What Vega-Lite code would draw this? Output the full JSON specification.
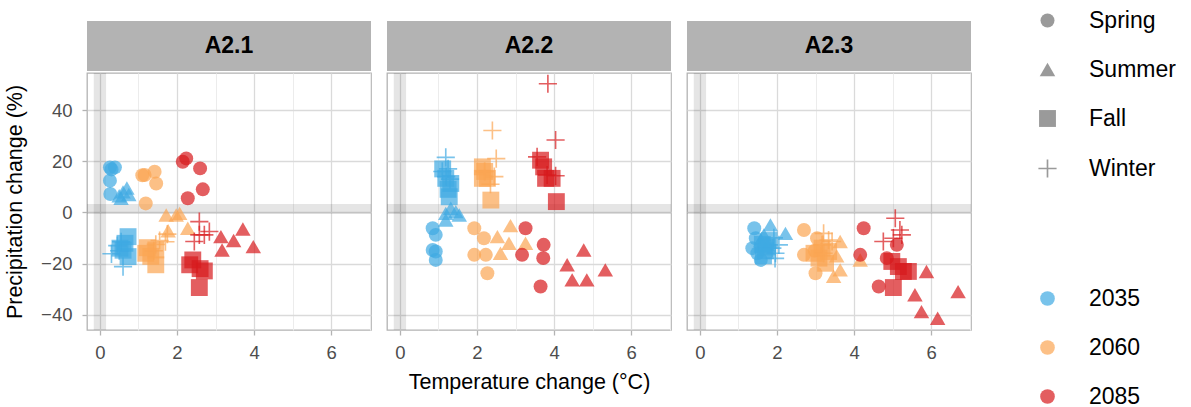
{
"$schema": "https://vega.github.io/schema/vega-lite/v6.json",
"padding": {"left": 3, "top": 9, "right": 0, "bottom": 0},
"datasets": {"pts": [
{"panel":"A2.1","year":"2035","season":"Spring","temp":0.26,"precip":17.6},
{"panel":"A2.1","year":"2035","season":"Spring","temp":0.39,"precip":17.6},
{"panel":"A2.1","year":"2035","season":"Spring","temp":0.3,"precip":16.8},
{"panel":"A2.1","year":"2035","season":"Spring","temp":0.26,"precip":12.4},
{"panel":"A2.1","year":"2035","season":"Spring","temp":0.27,"precip":7.2},
{"panel":"A2.1","year":"2035","season":"Summer","temp":0.5,"precip":6.5},
{"panel":"A2.1","year":"2035","season":"Summer","temp":0.6,"precip":8},
{"panel":"A2.1","year":"2035","season":"Summer","temp":0.7,"precip":9.5},
{"panel":"A2.1","year":"2035","season":"Summer","temp":0.75,"precip":7},
{"panel":"A2.1","year":"2035","season":"Summer","temp":0.55,"precip":5.5},
{"panel":"A2.1","year":"2035","season":"Fall","temp":0.73,"precip":-9.5},
{"panel":"A2.1","year":"2035","season":"Fall","temp":0.65,"precip":-12.1},
{"panel":"A2.1","year":"2035","season":"Fall","temp":0.52,"precip":-14},
{"panel":"A2.1","year":"2035","season":"Fall","temp":0.73,"precip":-17.3},
{"panel":"A2.1","year":"2035","season":"Fall","temp":0.6,"precip":-14.8},
{"panel":"A2.1","year":"2035","season":"Winter","temp":0.3,"precip":-16.2},
{"panel":"A2.1","year":"2035","season":"Winter","temp":0.6,"precip":-21.2},
{"panel":"A2.1","year":"2035","season":"Winter","temp":0.45,"precip":-13},
{"panel":"A2.1","year":"2035","season":"Winter","temp":0.55,"precip":-11.5},
{"panel":"A2.1","year":"2035","season":"Winter","temp":0.5,"precip":-15},
{"panel":"A2.1","year":"2060","season":"Spring","temp":1.16,"precip":14.6},
{"panel":"A2.1","year":"2060","season":"Spring","temp":1.42,"precip":15.9},
{"panel":"A2.1","year":"2060","season":"Spring","temp":1.46,"precip":11.3},
{"panel":"A2.1","year":"2060","season":"Spring","temp":1.19,"precip":3.5},
{"panel":"A2.1","year":"2060","season":"Spring","temp":1.1,"precip":14.5},
{"panel":"A2.1","year":"2060","season":"Summer","temp":1.72,"precip":-1},
{"panel":"A2.1","year":"2060","season":"Summer","temp":2.07,"precip":-0.4},
{"panel":"A2.1","year":"2060","season":"Summer","temp":1.98,"precip":-1},
{"panel":"A2.1","year":"2060","season":"Summer","temp":2.28,"precip":-6.2},
{"panel":"A2.1","year":"2060","season":"Summer","temp":1.77,"precip":-7.2},
{"panel":"A2.1","year":"2060","season":"Fall","temp":1.19,"precip":-16},
{"panel":"A2.1","year":"2060","season":"Fall","temp":1.45,"precip":-14.7},
{"panel":"A2.1","year":"2060","season":"Fall","temp":1.45,"precip":-20.5},
{"panel":"A2.1","year":"2060","season":"Fall","temp":1.32,"precip":-17.2},
{"panel":"A2.1","year":"2060","season":"Fall","temp":1.23,"precip":-13.8},
{"panel":"A2.1","year":"2060","season":"Winter","temp":1.45,"precip":-12.5},
{"panel":"A2.1","year":"2060","season":"Winter","temp":1.55,"precip":-11},
{"panel":"A2.1","year":"2060","season":"Winter","temp":1.7,"precip":-11.5},
{"panel":"A2.1","year":"2060","season":"Winter","temp":1.75,"precip":-8.5},
{"panel":"A2.1","year":"2060","season":"Winter","temp":1.4,"precip":-15},
{"panel":"A2.1","year":"2085","season":"Spring","temp":2.15,"precip":19.8},
{"panel":"A2.1","year":"2085","season":"Spring","temp":2.24,"precip":21.1},
{"panel":"A2.1","year":"2085","season":"Spring","temp":2.6,"precip":17.2},
{"panel":"A2.1","year":"2085","season":"Spring","temp":2.67,"precip":9},
{"panel":"A2.1","year":"2085","season":"Spring","temp":2.28,"precip":5.5},
{"panel":"A2.1","year":"2085","season":"Summer","temp":3.14,"precip":-9.5},
{"panel":"A2.1","year":"2085","season":"Summer","temp":3.71,"precip":-6.5},
{"panel":"A2.1","year":"2085","season":"Summer","temp":3.47,"precip":-11},
{"panel":"A2.1","year":"2085","season":"Summer","temp":3.17,"precip":-14.7},
{"panel":"A2.1","year":"2085","season":"Summer","temp":3.98,"precip":-13.4},
{"panel":"A2.1","year":"2085","season":"Fall","temp":2.41,"precip":-18.6},
{"panel":"A2.1","year":"2085","season":"Fall","temp":2.33,"precip":-20.5},
{"panel":"A2.1","year":"2085","season":"Fall","temp":2.71,"precip":-22.9},
{"panel":"A2.1","year":"2085","season":"Fall","temp":2.58,"precip":-29.4},
{"panel":"A2.1","year":"2085","season":"Fall","temp":2.6,"precip":-22},
{"panel":"A2.1","year":"2085","season":"Winter","temp":2.58,"precip":-3.6},
{"panel":"A2.1","year":"2085","season":"Winter","temp":2.71,"precip":-8.8},
{"panel":"A2.1","year":"2085","season":"Winter","temp":2.45,"precip":-11.4},
{"panel":"A2.1","year":"2085","season":"Winter","temp":2.58,"precip":-8.8},
{"panel":"A2.1","year":"2085","season":"Winter","temp":2.84,"precip":-7.5},
{"panel":"A2.2","year":"2035","season":"Spring","temp":0.85,"precip":-6.2},
{"panel":"A2.2","year":"2035","season":"Spring","temp":0.93,"precip":-8.8},
{"panel":"A2.2","year":"2035","season":"Spring","temp":0.85,"precip":-14.7},
{"panel":"A2.2","year":"2035","season":"Spring","temp":0.93,"precip":-15.3},
{"panel":"A2.2","year":"2035","season":"Spring","temp":0.93,"precip":-18.6},
{"panel":"A2.2","year":"2035","season":"Summer","temp":1.19,"precip":-0.4},
{"panel":"A2.2","year":"2035","season":"Summer","temp":1.32,"precip":1.6},
{"panel":"A2.2","year":"2035","season":"Summer","temp":1.45,"precip":0.3},
{"panel":"A2.2","year":"2035","season":"Summer","temp":1.19,"precip":-3},
{"panel":"A2.2","year":"2035","season":"Summer","temp":1.54,"precip":-1},
{"panel":"A2.2","year":"2035","season":"Fall","temp":1.11,"precip":17},
{"panel":"A2.2","year":"2035","season":"Fall","temp":1.19,"precip":13.3},
{"panel":"A2.2","year":"2035","season":"Fall","temp":1.32,"precip":11.3},
{"panel":"A2.2","year":"2035","season":"Fall","temp":1.28,"precip":6.1},
{"panel":"A2.2","year":"2035","season":"Fall","temp":1.25,"precip":9},
{"panel":"A2.2","year":"2035","season":"Winter","temp":1.19,"precip":21.5},
{"panel":"A2.2","year":"2035","season":"Winter","temp":1.1,"precip":16},
{"panel":"A2.2","year":"2035","season":"Winter","temp":1.2,"precip":14},
{"panel":"A2.2","year":"2035","season":"Winter","temp":1.25,"precip":17},
{"panel":"A2.2","year":"2035","season":"Winter","temp":1.3,"precip":13},
{"panel":"A2.2","year":"2060","season":"Spring","temp":1.93,"precip":-6.2},
{"panel":"A2.2","year":"2060","season":"Spring","temp":2.18,"precip":-10.1},
{"panel":"A2.2","year":"2060","season":"Spring","temp":1.93,"precip":-16.6},
{"panel":"A2.2","year":"2060","season":"Spring","temp":2.23,"precip":-16.6},
{"panel":"A2.2","year":"2060","season":"Spring","temp":2.27,"precip":-23.8},
{"panel":"A2.2","year":"2060","season":"Summer","temp":2.87,"precip":-5.2},
{"panel":"A2.2","year":"2060","season":"Summer","temp":2.53,"precip":-9.5},
{"panel":"A2.2","year":"2060","season":"Summer","temp":2.83,"precip":-12.1},
{"panel":"A2.2","year":"2060","season":"Summer","temp":3.26,"precip":-12.1},
{"panel":"A2.2","year":"2060","season":"Summer","temp":2.61,"precip":-16},
{"panel":"A2.2","year":"2060","season":"Fall","temp":2.14,"precip":17.8},
{"panel":"A2.2","year":"2060","season":"Fall","temp":2.14,"precip":13.3},
{"panel":"A2.2","year":"2060","season":"Fall","temp":2.27,"precip":13.3},
{"panel":"A2.2","year":"2060","season":"Fall","temp":2.2,"precip":16},
{"panel":"A2.2","year":"2060","season":"Fall","temp":2.36,"precip":4.8},
{"panel":"A2.2","year":"2060","season":"Winter","temp":2.4,"precip":32},
{"panel":"A2.2","year":"2060","season":"Winter","temp":2.5,"precip":21},
{"panel":"A2.2","year":"2060","season":"Winter","temp":2.45,"precip":14},
{"panel":"A2.2","year":"2060","season":"Winter","temp":2.2,"precip":16},
{"panel":"A2.2","year":"2060","season":"Winter","temp":2.35,"precip":11},
{"panel":"A2.2","year":"2085","season":"Spring","temp":3.26,"precip":-6.2},
{"panel":"A2.2","year":"2085","season":"Spring","temp":3.73,"precip":-12.7},
{"panel":"A2.2","year":"2085","season":"Spring","temp":3.17,"precip":-16.6},
{"panel":"A2.2","year":"2085","season":"Spring","temp":3.72,"precip":-17.9},
{"panel":"A2.2","year":"2085","season":"Spring","temp":3.65,"precip":-29},
{"panel":"A2.2","year":"2085","season":"Summer","temp":4.77,"precip":-14.7},
{"panel":"A2.2","year":"2085","season":"Summer","temp":4.34,"precip":-20.5},
{"panel":"A2.2","year":"2085","season":"Summer","temp":5.33,"precip":-22.5},
{"panel":"A2.2","year":"2085","season":"Summer","temp":4.47,"precip":-26.4},
{"panel":"A2.2","year":"2085","season":"Summer","temp":4.85,"precip":-26.4},
{"panel":"A2.2","year":"2085","season":"Fall","temp":3.65,"precip":20.4},
{"panel":"A2.2","year":"2085","season":"Fall","temp":3.73,"precip":17.8},
{"panel":"A2.2","year":"2085","season":"Fall","temp":3.78,"precip":13.3},
{"panel":"A2.2","year":"2085","season":"Fall","temp":3.95,"precip":13.3},
{"panel":"A2.2","year":"2085","season":"Fall","temp":4.06,"precip":4.2},
{"panel":"A2.2","year":"2085","season":"Winter","temp":3.84,"precip":50.3},
{"panel":"A2.2","year":"2085","season":"Winter","temp":4.04,"precip":28.3},
{"panel":"A2.2","year":"2085","season":"Winter","temp":3.56,"precip":21.7},
{"panel":"A2.2","year":"2085","season":"Winter","temp":3.82,"precip":14.6},
{"panel":"A2.2","year":"2085","season":"Winter","temp":4.04,"precip":14.3},
{"panel":"A2.3","year":"2035","season":"Spring","temp":1.41,"precip":-6.2},
{"panel":"A2.3","year":"2035","season":"Spring","temp":1.45,"precip":-10.1},
{"panel":"A2.3","year":"2035","season":"Spring","temp":1.36,"precip":-14},
{"panel":"A2.3","year":"2035","season":"Spring","temp":1.58,"precip":-18.6},
{"panel":"A2.3","year":"2035","season":"Spring","temp":1.49,"precip":-16},
{"panel":"A2.3","year":"2035","season":"Summer","temp":1.83,"precip":-4.9},
{"panel":"A2.3","year":"2035","season":"Summer","temp":2.22,"precip":-8.2},
{"panel":"A2.3","year":"2035","season":"Summer","temp":1.66,"precip":-8.8},
{"panel":"A2.3","year":"2035","season":"Summer","temp":1.75,"precip":-12.7},
{"panel":"A2.3","year":"2035","season":"Summer","temp":1.58,"precip":-10.8},
{"panel":"A2.3","year":"2035","season":"Fall","temp":1.62,"precip":-12.5},
{"panel":"A2.3","year":"2035","season":"Fall","temp":1.7,"precip":-15},
{"panel":"A2.3","year":"2035","season":"Fall","temp":1.75,"precip":-13.5},
{"panel":"A2.3","year":"2035","season":"Fall","temp":1.65,"precip":-17},
{"panel":"A2.3","year":"2035","season":"Fall","temp":1.8,"precip":-11},
{"panel":"A2.3","year":"2035","season":"Winter","temp":1.96,"precip":-16},
{"panel":"A2.3","year":"2035","season":"Winter","temp":2.05,"precip":-12.7},
{"panel":"A2.3","year":"2035","season":"Winter","temp":1.92,"precip":-10},
{"panel":"A2.3","year":"2035","season":"Winter","temp":1.88,"precip":-14},
{"panel":"A2.3","year":"2035","season":"Winter","temp":1.95,"precip":-18},
{"panel":"A2.3","year":"2060","season":"Spring","temp":2.7,"precip":-6.9},
{"panel":"A2.3","year":"2060","season":"Spring","temp":2.7,"precip":-16.6},
{"panel":"A2.3","year":"2060","season":"Spring","temp":3.0,"precip":-23.8},
{"panel":"A2.3","year":"2060","season":"Spring","temp":3.04,"precip":-10.1},
{"panel":"A2.3","year":"2060","season":"Spring","temp":2.98,"precip":-15},
{"panel":"A2.3","year":"2060","season":"Summer","temp":3.64,"precip":-11.4},
{"panel":"A2.3","year":"2060","season":"Summer","temp":4.16,"precip":-18.6},
{"panel":"A2.3","year":"2060","season":"Summer","temp":3.64,"precip":-22.5},
{"panel":"A2.3","year":"2060","season":"Summer","temp":3.47,"precip":-25},
{"panel":"A2.3","year":"2060","season":"Summer","temp":3.55,"precip":-17},
{"panel":"A2.3","year":"2060","season":"Fall","temp":2.96,"precip":-16},
{"panel":"A2.3","year":"2060","season":"Fall","temp":3.09,"precip":-17.9},
{"panel":"A2.3","year":"2060","season":"Fall","temp":3.17,"precip":-14},
{"panel":"A2.3","year":"2060","season":"Fall","temp":3.26,"precip":-19.9},
{"panel":"A2.3","year":"2060","season":"Fall","temp":3.34,"precip":-15.3},
{"panel":"A2.3","year":"2060","season":"Winter","temp":3.21,"precip":-8.2},
{"panel":"A2.3","year":"2060","season":"Winter","temp":3.34,"precip":-10.8},
{"panel":"A2.3","year":"2060","season":"Winter","temp":3.17,"precip":-12.7},
{"panel":"A2.3","year":"2060","season":"Winter","temp":3.43,"precip":-11.4},
{"panel":"A2.3","year":"2060","season":"Winter","temp":3.21,"precip":-16},
{"panel":"A2.3","year":"2085","season":"Spring","temp":4.25,"precip":-6.2},
{"panel":"A2.3","year":"2085","season":"Spring","temp":4.16,"precip":-16.6},
{"panel":"A2.3","year":"2085","season":"Spring","temp":4.85,"precip":-17.9},
{"panel":"A2.3","year":"2085","season":"Spring","temp":5.11,"precip":-12.7},
{"panel":"A2.3","year":"2085","season":"Spring","temp":4.64,"precip":-29},
{"panel":"A2.3","year":"2085","season":"Summer","temp":5.88,"precip":-23.1},
{"panel":"A2.3","year":"2085","season":"Summer","temp":6.7,"precip":-31},
{"panel":"A2.3","year":"2085","season":"Summer","temp":5.58,"precip":-32.2},
{"panel":"A2.3","year":"2085","season":"Summer","temp":5.75,"precip":-38.8},
{"panel":"A2.3","year":"2085","season":"Summer","temp":6.17,"precip":-41.4},
{"panel":"A2.3","year":"2085","season":"Fall","temp":4.98,"precip":-19.2},
{"panel":"A2.3","year":"2085","season":"Fall","temp":5.15,"precip":-21.2},
{"panel":"A2.3","year":"2085","season":"Fall","temp":5.41,"precip":-23.1},
{"panel":"A2.3","year":"2085","season":"Fall","temp":5.28,"precip":-23.1},
{"panel":"A2.3","year":"2085","season":"Fall","temp":5.02,"precip":-29.4},
{"panel":"A2.3","year":"2085","season":"Winter","temp":5.07,"precip":-2.3},
{"panel":"A2.3","year":"2085","season":"Winter","temp":5.19,"precip":-6.9},
{"panel":"A2.3","year":"2085","season":"Winter","temp":4.76,"precip":-11.4},
{"panel":"A2.3","year":"2085","season":"Winter","temp":5.02,"precip":-10.1},
{"panel":"A2.3","year":"2085","season":"Winter","temp":5.24,"precip":-8.8}
]},
"config": {
  "font": "Liberation Sans",
  "view": {"stroke": "#b3b3b3", "strokeWidth": 1.3},
  "axis": {"domain": false, "tickColor": "#b3b3b3", "tickSize": 5, "tickWidth": 1.3, "labelColor": "#4d4d4d", "labelFontSize": 18.5, "titleFontSize": 21.5, "titleFontWeight": "normal", "titleColor": "black", "labelPadding": 8, "grid": true},
  "legend": {"symbolBaseFillColor": "#333333", "symbolBaseStrokeColor": "#333333"}
},
"resolve": {"scale": {"color": "shared", "shape": "shared", "size": "shared"}},
"spacing": 14,
"hconcat": [
 {"spacing": 1, "vconcat": [
  {"width": 284, "height": 50, "view": {"fill": "#b3b3b3", "stroke": null},
   "data": {"values": [{"panel": "A2.1"}]},
   "mark": {"type": "text", "fontSize": 23, "fontWeight": "bold", "color": "black"},
   "encoding": {"text": {"field": "panel"}}},
  {"width": 284, "height": 257,
   "layer": [
    {"data": {"values": [{}]}, "mark": {"type": "rect", "color": "black", "opacity": 0.1},
     "encoding": {"x": {"datum": -0.16, "type": "quantitative", "scale": {"domain": [-0.335, 7.035], "nice": false, "zero": false}}, "x2": {"datum": 0.16}, "y": {"datum": -46, "type": "quantitative", "scale": {"domain": [-46, 54.5], "nice": false, "zero": false}}, "y2": {"datum": 54.5}}},
    {"data": {"values": [{}]}, "mark": {"type": "rect", "color": "black", "opacity": 0.1},
     "encoding": {"x": {"datum": -0.335, "type": "quantitative"}, "x2": {"datum": 7.035}, "y": {"datum": -0.6, "type": "quantitative"}, "y2": {"datum": 3.3}}},
    {"data": {"name": "pts"}, "transform": [{"filter": "datum.panel === 'A2.1'"}],
     "mark": {"type": "point", "filled": true, "opacity": 0.7},
     "encoding": {
      "x": {"field": "temp", "type": "quantitative", "scale": {"domain": [-0.335, 7.035], "nice": false, "zero": false},
            "axis": {"title": null, "values": [0,1,2,3,4,5,6,7], "labelExpr": "datum.value % 2 === 0 ? datum.label : ''", "tickOpacity": {"condition": {"test": "datum.value % 2 === 0", "value": 1}, "value": 0}, "gridColor": {"condition": {"test": "datum.value % 2 === 0", "value": "#dadada"}, "value": "#ececec"}, "gridWidth": {"condition": {"test": "datum.value % 2 === 0", "value": 1.3}, "value": 1}}},
      "y": {"field": "precip", "type": "quantitative", "scale": {"domain": [-46, 54.5], "nice": false, "zero": false},
            "axis": {"title": "Precipitation change (%)", "titlePadding": 14, "labelPadding": 10, "values": [-40,-30,-20,-10,0,10,20,30,40,50], "labelExpr": "datum.value % 20 === 0 ? datum.label : ''", "tickOpacity": {"condition": {"test": "datum.value % 20 === 0", "value": 1}, "value": 0}, "gridColor": {"condition": {"test": "datum.value % 20 === 0", "value": "#dadada"}, "value": "#ececec"}, "gridWidth": {"condition": {"test": "datum.value % 20 === 0", "value": 1.3}, "value": 1}}},
      "color": {"field": "year", "type": "nominal", "scale": {"domain": ["2035","2060","2085"], "range": ["#3FA9E3","#FBA552","#D7191C"]},
                "legend": {"title": null, "orient": "none", "legendX": 949, "legendY": 266, "labelFontSize": 23, "labelColor": "black", "symbolSize": 215, "rowPadding": 25, "labelOffset": 30, "symbolOpacity": 0.7}},
      "shape": {"field": "season", "type": "nominal", "scale": {"domain": ["Spring","Summer","Fall","Winter"], "range": ["circle","triangle-up","square","M-1,-0.09H-0.09V-1H0.09V-0.09H1V0.09H0.09V1H-0.09V0.09H-1Z"]},
                "legend": {"title": null, "orient": "none", "legendX": 949, "legendY": -12, "labelFontSize": 23, "labelColor": "black", "rowPadding": 25, "labelOffset": 30, "symbolFillColor": "#333333", "symbolOpacity": 1}},
      "size": {"field": "season", "type": "nominal", "scale": {"domain": ["Spring","Summer","Fall","Winter"], "range": [195, 330, 205, 441]}, "legend": {"title": null}}
     }}
   ]}
 ]},
 {"spacing": 1, "vconcat": [
  {"width": 284, "height": 50, "view": {"fill": "#b3b3b3", "stroke": null},
   "data": {"values": [{"panel": "A2.2"}]},
   "mark": {"type": "text", "fontSize": 23, "fontWeight": "bold", "color": "black"},
   "encoding": {"text": {"field": "panel"}}},
  {"width": 284, "height": 257,
   "layer": [
    {"data": {"values": [{}]}, "mark": {"type": "rect", "color": "black", "opacity": 0.1},
     "encoding": {"x": {"datum": -0.16, "type": "quantitative", "scale": {"domain": [-0.335, 7.035], "nice": false, "zero": false}}, "x2": {"datum": 0.16}, "y": {"datum": -46, "type": "quantitative", "scale": {"domain": [-46, 54.5], "nice": false, "zero": false}}, "y2": {"datum": 54.5}}},
    {"data": {"values": [{}]}, "mark": {"type": "rect", "color": "black", "opacity": 0.1},
     "encoding": {"x": {"datum": -0.335, "type": "quantitative"}, "x2": {"datum": 7.035}, "y": {"datum": -0.6, "type": "quantitative"}, "y2": {"datum": 3.3}}},
    {"data": {"name": "pts"}, "transform": [{"filter": "datum.panel === 'A2.2'"}],
     "mark": {"type": "point", "filled": true, "opacity": 0.7},
     "encoding": {
      "x": {"field": "temp", "type": "quantitative", "scale": {"domain": [-0.335, 7.035], "nice": false, "zero": false},
            "axis": {"title": "Temperature change (°C)", "titlePadding": 10, "values": [0,1,2,3,4,5,6,7], "labelExpr": "datum.value % 2 === 0 ? datum.label : ''", "tickOpacity": {"condition": {"test": "datum.value % 2 === 0", "value": 1}, "value": 0}, "gridColor": {"condition": {"test": "datum.value % 2 === 0", "value": "#dadada"}, "value": "#ececec"}, "gridWidth": {"condition": {"test": "datum.value % 2 === 0", "value": 1.3}, "value": 1}}},
      "y": {"field": "precip", "type": "quantitative", "scale": {"domain": [-46, 54.5], "nice": false, "zero": false},
            "axis": {"title": null, "labels": false, "ticks": false, "minExtent": 0, "maxExtent": 0, "values": [-40,-30,-20,-10,0,10,20,30,40,50], "gridColor": {"condition": {"test": "datum.value % 20 === 0", "value": "#dadada"}, "value": "#ececec"}, "gridWidth": {"condition": {"test": "datum.value % 20 === 0", "value": 1.3}, "value": 1}}},
      "color": {"field": "year", "type": "nominal", "scale": {"domain": ["2035","2060","2085"], "range": ["#3FA9E3","#FBA552","#D7191C"]}},
      "shape": {"field": "season", "type": "nominal", "scale": {"domain": ["Spring","Summer","Fall","Winter"], "range": ["circle","triangle-up","square","M-1,-0.09H-0.09V-1H0.09V-0.09H1V0.09H0.09V1H-0.09V0.09H-1Z"]}},
      "size": {"field": "season", "type": "nominal", "scale": {"domain": ["Spring","Summer","Fall","Winter"], "range": [195, 330, 205, 441]}}
     }}
   ]}
 ]},
 {"spacing": 1, "vconcat": [
  {"width": 284, "height": 50, "view": {"fill": "#b3b3b3", "stroke": null},
   "data": {"values": [{"panel": "A2.3"}]},
   "mark": {"type": "text", "fontSize": 23, "fontWeight": "bold", "color": "black"},
   "encoding": {"text": {"field": "panel"}}},
  {"width": 284, "height": 257,
   "layer": [
    {"data": {"values": [{}]}, "mark": {"type": "rect", "color": "black", "opacity": 0.1},
     "encoding": {"x": {"datum": -0.16, "type": "quantitative", "scale": {"domain": [-0.335, 7.035], "nice": false, "zero": false}}, "x2": {"datum": 0.16}, "y": {"datum": -46, "type": "quantitative", "scale": {"domain": [-46, 54.5], "nice": false, "zero": false}}, "y2": {"datum": 54.5}}},
    {"data": {"values": [{}]}, "mark": {"type": "rect", "color": "black", "opacity": 0.1},
     "encoding": {"x": {"datum": -0.335, "type": "quantitative"}, "x2": {"datum": 7.035}, "y": {"datum": -0.6, "type": "quantitative"}, "y2": {"datum": 3.3}}},
    {"data": {"name": "pts"}, "transform": [{"filter": "datum.panel === 'A2.3'"}],
     "mark": {"type": "point", "filled": true, "opacity": 0.7},
     "encoding": {
      "x": {"field": "temp", "type": "quantitative", "scale": {"domain": [-0.335, 7.035], "nice": false, "zero": false},
            "axis": {"title": null, "values": [0,1,2,3,4,5,6,7], "labelExpr": "datum.value % 2 === 0 ? datum.label : ''", "tickOpacity": {"condition": {"test": "datum.value % 2 === 0", "value": 1}, "value": 0}, "gridColor": {"condition": {"test": "datum.value % 2 === 0", "value": "#dadada"}, "value": "#ececec"}, "gridWidth": {"condition": {"test": "datum.value % 2 === 0", "value": 1.3}, "value": 1}}},
      "y": {"field": "precip", "type": "quantitative", "scale": {"domain": [-46, 54.5], "nice": false, "zero": false},
            "axis": {"title": null, "labels": false, "ticks": false, "minExtent": 0, "maxExtent": 0, "values": [-40,-30,-20,-10,0,10,20,30,40,50], "gridColor": {"condition": {"test": "datum.value % 20 === 0", "value": "#dadada"}, "value": "#ececec"}, "gridWidth": {"condition": {"test": "datum.value % 20 === 0", "value": 1.3}, "value": 1}}},
      "color": {"field": "year", "type": "nominal", "scale": {"domain": ["2035","2060","2085"], "range": ["#3FA9E3","#FBA552","#D7191C"]}},
      "shape": {"field": "season", "type": "nominal", "scale": {"domain": ["Spring","Summer","Fall","Winter"], "range": ["circle","triangle-up","square","M-1,-0.09H-0.09V-1H0.09V-0.09H1V0.09H0.09V1H-0.09V0.09H-1Z"]}},
      "size": {"field": "season", "type": "nominal", "scale": {"domain": ["Spring","Summer","Fall","Winter"], "range": [195, 330, 205, 441]}}
     }}
   ]}
 ]}
]
}
